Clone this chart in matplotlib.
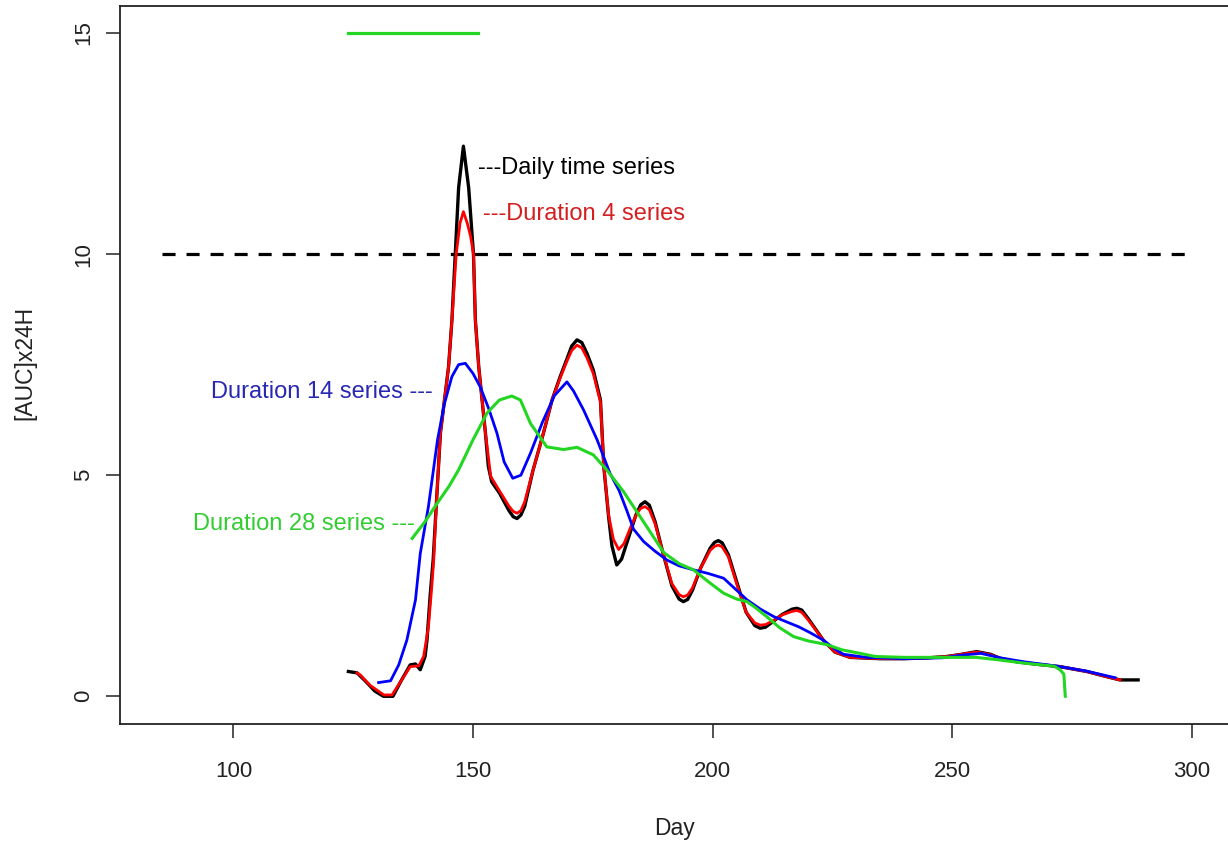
import matplotlib
matplotlib.use("Agg")
import matplotlib.pyplot as plt

plt.rcParams['font.family'] = ['Liberation Sans', 'DejaVu Sans']
plt.rcParams['lines.scale_dashes'] = False

# Daily time series (black)
daily_day = [124, 125.8, 127.5, 129.5, 131.3, 133.3, 135.0, 136.9, 138.0, 139.0, 140.0, 140.4,
             141.1, 141.7, 142.4, 143.2, 144.9, 145.6, 146.3, 147.0, 148.0, 149.1, 150.1, 150.5,
             151.2, 151.9, 152.6, 153.2, 153.9, 155.5, 157.5, 158.4, 159.2, 160.0, 160.8, 162.5,
             164.7, 166.5, 168.2, 169.5, 170.6, 171.7, 172.7, 173.8, 175.1, 176.6, 177.3, 178.3,
             179.0, 180.0, 181.0, 182.5, 184.0, 185.0, 185.9, 186.8, 188.0, 189.5, 191.5, 193.0,
             193.9, 194.8, 195.8, 197.5, 199.5, 200.4, 201.2, 202.0, 203.3, 205.0, 207.0, 208.8,
             209.9, 211.0, 212.5, 214.5, 216.6, 217.6, 218.6, 220.0, 223.1, 225.5, 228.7, 235,
             240, 245, 248.9, 252, 255.1, 258, 260, 263.5, 268, 272.5, 278.1, 282, 285, 288.8]
daily_val = [0.56, 0.53, 0.35, 0.12, 0.0, 0.0, 0.35, 0.71, 0.73, 0.60, 0.9, 1.27,
             2.33, 3.1, 4.44, 5.95, 7.45, 8.5, 10.0, 11.5, 12.44, 11.5, 10.0, 8.5,
             7.45, 6.7, 5.95, 5.2, 4.85, 4.6, 4.2, 4.06, 4.02, 4.1, 4.3, 5.1,
             5.95, 6.7, 7.23, 7.6, 7.92, 8.06, 8.0, 7.75, 7.38, 6.7, 5.19, 4.06,
             3.4, 2.97, 3.1, 3.6, 4.1, 4.33, 4.40, 4.32, 3.95, 3.3, 2.5, 2.2,
             2.14, 2.19, 2.4, 2.9, 3.35, 3.48, 3.52, 3.47, 3.2, 2.6, 1.9, 1.6,
             1.54, 1.56, 1.68, 1.85, 1.97, 1.99, 1.95, 1.75, 1.27, 1.0, 0.88, 0.85,
             0.85, 0.87, 0.9, 0.95, 1.01, 0.95, 0.86, 0.78, 0.72, 0.67, 0.56, 0.45, 0.37, 0.37]

# Duration 4 series (red)
d4_day = [125.8, 126.5, 128.5, 131.4, 133.1, 135.0, 136.9, 138.7, 139.7, 140.7, 141.4, 141.8,
          142.4, 143.2, 144.9, 145.6, 146.5, 147.3, 148.0, 148.8, 149.5, 150.1, 150.5, 151.2,
          151.9, 152.6, 153.7, 155.5, 157.5, 158.4, 159.2, 160.0, 160.8, 162.5, 164.7, 166.5,
          168.2, 169.5, 170.6, 171.7, 172.7, 173.8, 175.1, 176.6, 177.3, 178.3, 179.3, 180.4,
          181.5, 183.0, 184.3, 185.0, 185.9, 186.8, 188.0, 189.5, 191.5, 193.0, 193.9, 194.8,
          195.8, 197.5, 199.5, 200.4, 201.2, 202.0, 203.3, 205.0, 207.0, 208.8, 209.9, 211.0,
          212.5, 214.5, 216.6, 217.6, 218.6, 220.0, 223.1, 225.5, 228.7, 235, 240, 245,
          248.9, 252, 255.1, 258, 260, 263.5, 268, 272.5, 278.1, 282, 285]
d4_val = [0.53, 0.48, 0.25, 0.03, 0.03, 0.35, 0.67, 0.69, 0.9, 1.57, 2.48, 3.08,
          4.44, 5.95, 7.45, 8.5, 10.0, 10.7, 10.96, 10.7, 10.4, 10.0, 8.5, 7.45,
          6.7, 5.95, 4.97, 4.65, 4.3, 4.18, 4.14, 4.2, 4.4, 5.1, 5.95, 6.7,
          7.2, 7.55, 7.82, 7.94, 7.88, 7.65, 7.3, 6.65, 5.2, 4.1, 3.55, 3.32,
          3.45, 3.85, 4.15, 4.25, 4.29, 4.22, 3.9, 3.3, 2.55, 2.3, 2.25, 2.29,
          2.45, 2.9, 3.3, 3.39, 3.42, 3.38, 3.15, 2.55, 1.9, 1.66, 1.61, 1.62,
          1.7, 1.84, 1.92, 1.94, 1.9, 1.72, 1.27, 1.0, 0.88, 0.85, 0.85, 0.87,
          0.9, 0.95, 1.0, 0.94, 0.86, 0.78, 0.72, 0.67, 0.56, 0.45, 0.37]

# Duration 14 series (blue)
d14_day = [130.3, 132.8, 134.5, 136.2, 138.0, 139.0, 140.7, 142.6, 144.0, 145.6, 147.0, 148.4,
           150.0, 151.5, 153.3, 155.0, 156.5, 158.3, 160.0, 162.0, 164.5, 167.0, 169.6, 171.0,
           173.1, 175.9, 178.6, 180.5, 182.1, 183.5, 185.6, 188.0, 190.5, 193.0, 196.0, 199.0,
           202.3, 204.5, 207.2, 210.0, 212.8, 215.5, 218.0, 220.5, 223.1, 225.5, 227.3, 232,
           240, 248, 252, 256, 260, 265, 272, 278, 284]
d14_val = [0.31, 0.35, 0.71, 1.27, 2.18, 3.23, 4.29, 5.8, 6.6, 7.23, 7.5, 7.53,
           7.3, 7.0, 6.5, 5.95, 5.3, 4.93, 5.0, 5.5, 6.2, 6.8, 7.11, 6.9,
           6.47, 5.8, 5.04, 4.65, 4.2, 3.78, 3.50, 3.28, 3.08, 2.95, 2.86, 2.78,
           2.67, 2.45, 2.18, 1.97, 1.80, 1.68, 1.57, 1.43, 1.27, 1.07, 0.95, 0.88,
           0.85, 0.87, 0.93, 0.97, 0.87, 0.78, 0.68, 0.57, 0.42]

# Duration 28 series (green)
d28_day = [137.3, 140.0, 142.5, 145.0, 147.0, 150.0, 152.9, 155.5, 158.1, 159.9, 162.0, 165.4,
           168.9, 171.7, 175.1, 177.9, 181.4, 186.3, 189.8, 193, 196.0, 199, 202.3, 205,
           207.2, 209, 211.3, 214, 216.9, 220, 223.8, 227, 230.8, 233.9, 240, 250,
           255, 260, 265, 271.3, 272.5, 273.3, 273.6]
d28_val = [3.57, 3.95, 4.36, 4.75, 5.12, 5.8, 6.4, 6.7, 6.79, 6.7, 6.17, 5.64,
           5.58, 5.63, 5.46, 5.12, 4.63, 3.83, 3.25, 3.0, 2.86, 2.6, 2.33, 2.2,
           2.14, 2.0, 1.80, 1.55, 1.35, 1.25, 1.17, 1.05, 0.97, 0.9, 0.88, 0.88,
           0.88, 0.82, 0.75, 0.68, 0.6, 0.5, 0.0]

threshold = 10
threshold_days = [85, 300]
top_bar_days = [124, 151]
top_bar_level = 15

xticks = [100, 150, 200, 250, 300]
yticks = [0, 5, 10, 15]

W, H = 1228, 841
fig = plt.figure(figsize=(W / 100, H / 100), dpi=100)
left, right, top, bottom = 120.3, 1233.0, 6.0, 723.7
ax = fig.add_axes([left / W, 1 - bottom / H, (right - left) / W, (bottom - top) / H])

ax.plot(threshold_days, [threshold, threshold], color='black', lw=2.3,
        dashes=(9.4, 7.9), solid_capstyle='butt', dash_capstyle='butt')
ax.plot(top_bar_days, [top_bar_level, top_bar_level], color='#22d622', lw=2.3)

ax.plot(daily_day, daily_val, color='black', lw=2.4)
ax.plot(d4_day, d4_val, color='#ff0000', lw=2.0)
ax.plot(d14_day, d14_val, color='#0000ff', lw=2.0)
ax.plot(d28_day, d28_val, color='#22d622', lw=2.2)

fs = 17
ax.text(151.0, 11.95, '---Daily time series', color='black', fontsize=fs, va='center', ha='left')
ax.text(152.0, 10.9, '---Duration 4 series', color='#d42020', fontsize=fs, va='center', ha='left')
ax.text(141.7, 6.88, 'Duration 14 series ---', color='#2828b4', fontsize=fs, va='center', ha='right')
ax.text(137.8, 3.9, 'Duration 28 series ---', color='#33cc33', fontsize=fs, va='center', ha='right')

ax.set_xlim(76.4, 308.6)
ax.set_ylim(-0.62, 15.61)
ax.set_xticks(xticks)
ax.set_yticks(yticks)
ax.set_xticklabels([str(t) for t in xticks])
ax.set_yticklabels([str(t) for t in yticks], rotation=90, va='center')
ax.tick_params(axis='both', length=10, width=1.1, color='#222222', labelsize=16,
               labelcolor='#222222')
ax.tick_params(axis='x', pad=17)
ax.tick_params(axis='y', pad=9)
for s in ax.spines.values():
    s.set_linewidth(1.3)
    s.set_color('#222222')

fig.text(675 / W, 1 - 828 / H, 'Day', ha='center', va='center', fontsize=16.5, color='#222222')
fig.text(25 / W, 1 - 363 / H, '[AUC]x24H', ha='center', va='center', rotation=90,
         fontsize=16.5, color='#222222')

fig.savefig('out.png', dpi=100)
